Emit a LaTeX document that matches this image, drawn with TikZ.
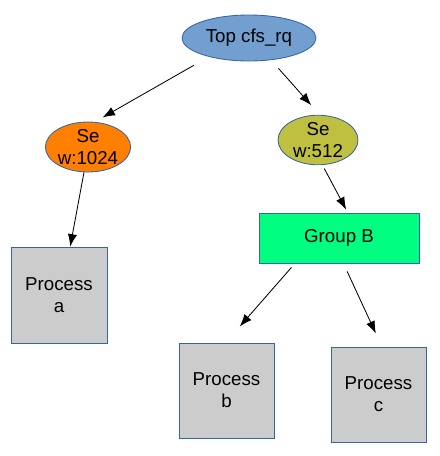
\documentclass[tikz,border=0pt]{standalone}
\usepackage{fontspec}
\setmainfont{Liberation Sans}
\usetikzlibrary{arrows.meta}
\usetikzlibrary{shapes.geometric}

\definecolor{rqblue}{HTML}{729FCF}
\definecolor{rqedge}{HTML}{3465A4}
\definecolor{seorange}{HTML}{FF8000}
\definecolor{seolive}{HTML}{BFBF40}
\definecolor{grpgreen}{HTML}{00FF80}
\definecolor{procgray}{HTML}{CCCCCC}

\begin{document}
\begin{tikzpicture}[
        x=0.025cm, y=-0.025cm,
        every node/.style={
            font=\fontsize{13.3}{15.5}\selectfont,
            align=center, text=black,
            draw=rqedge, line width=0.6pt,
        },
        sched/.style={ellipse, inner sep=0pt},
        proc/.style={
            rectangle, inner sep=0pt,
            minimum width=2.4cm, minimum height=2.4cm,
            fill=procgray,
        },
        link/.style={-{Latex[length=3.1mm, width=2.3mm]}, line width=0.6pt, black},
    ]
        \useasboundingbox (0,0) rectangle (440,456);

        \node (top) at(249,38) [
            sched, minimum width=3.35cm, minimum height=1.15cm,
            fill=rqblue,
        ] {Top cfs\_rq};

        \node (sea) at(88,147) [
            sched, minimum width=2.1cm, minimum height=1.25cm,
            fill=seorange,
        ] {Se\\w:1024};
        \node (seb) at(318,140) [
            sched, minimum width=2.0cm, minimum height=1.225cm,
            fill=seolive,
        ] {Se\\w:512};

        \node (grpb) at(339,238) [
            rectangle, inner sep=0pt,
            minimum width=4cm, minimum height=1.25cm,
            fill=grpgreen,
        ] {Group B};

        \node (pa) at(59,295) [proc] {Process\\a};
        \node (pb) at(226.5,390.5) [proc, minimum width=2.375cm, minimum height=2.375cm] {Process\\b};
        \node (pc) at(378.5,394.5) [proc, minimum width=2.375cm, minimum height=2.375cm] {Process\\c};

        \draw[link, shorten <=0.425cm, shorten >=0.225cm] (top.205) -- (sea.75);
        \draw[link, shorten <=0.275cm, shorten >=0.32cm] (top.315) -- (seb.86.5);
        \draw[link] (sea.261) -- (pa.77);
        \draw[link, shorten <=0.1cm, shorten >=0.085cm] (seb.280) -- (grpb.71);
        \draw[link, shorten <=0.13cm, shorten >=0.535cm] (grpb.210.5) -- (pb.91);
        \draw[link, shorten <=0.22cm, shorten >=0.36cm] (grpb.280) -- (pc.86);
    \end{tikzpicture}
\end{document}
